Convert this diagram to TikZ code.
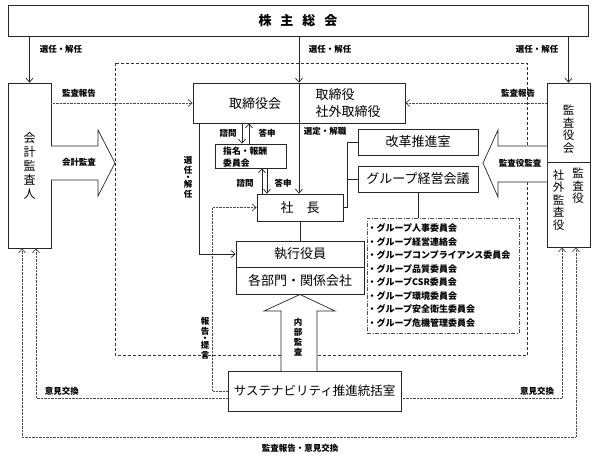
\documentclass[tikz,border=0pt]{standalone}
\usepackage{fontspec}
\setmainfont{Noto Sans CJK JP}
\usetikzlibrary{arrows.meta}
\begin{document}
\begin{tikzpicture}[x=1pt,y=-1pt,
  box/.style={draw=black!85, line width=0.7pt, fill=white, inner sep=0pt, font=\fontsize{13}{15}\selectfont},
  txt/.style={inner sep=0pt, font=\fontsize{13}{15}\selectfont},
  vt/.style={inner sep=0pt, align=center, font=\fontsize{11.5}{12.5}\selectfont},
  lbl/.style={inner sep=0pt, font=\bfseries\fontsize{8.5}{10}\selectfont},
  vlbl/.style={inner sep=0pt, align=center, font=\bfseries\fontsize{8.5}{10}\selectfont},
  arr/.style={line width=0.7pt, black!85, -{Straight Barb[length=4pt,width=7pt]}},
  dot/.style={line width=0.7pt, black!70, dash pattern=on 0.7pt off 0.7pt},
  dotarr/.style={dot, -{Straight Barb[length=4pt,width=7pt]}},
  bigarr/.style={draw=black!85, line width=0.7pt, fill=white, line join=miter},
  dashbox/.style={line width=0.6pt, black!80, dash pattern=on 3pt off 2pt},
  listbox/.style={draw=black!70, line width=0.6pt, dash pattern=on 4pt off 1.5pt on 1pt off 1.5pt, inner sep=0pt}
]
\useasboundingbox (0,0) rectangle (598,458);
\fill[white] (0,0) rectangle (598,458);

% dashed frame
\draw[dashbox] (115,63) rectangle (527,355.5);

% top box
\node[box, minimum width=580pt, minimum height=31pt, font=\bfseries\fontsize{13}{15}\selectfont] (kabu) at (298,20.5) {株\hspace{9pt}主\hspace{9pt}総\hspace{9pt}会};

% side boxes
\node[box, minimum width=43pt, minimum height=165pt, align=center, font=\fontsize{12}{14}\selectfont] (kaikei) at (29.5,165.5) {会\\計\\監\\査\\人};
\node[box, minimum width=43pt, minimum height=164pt] (kansa) at (568.5,165) {};
\draw[black!85, line width=0.7pt] ([yshift=3pt]kansa.west) -- ([yshift=3pt]kansa.east);
\node[vt] (kansakai) at (568.5,129) {監\\査\\役\\会};
\node[vt] (kansayaku) at (578,186) {監\\査\\役};
\node[vt] (shagaikansa) at (558.5,200) {社\\外\\監\\査\\役};

% big hollow arrows
\draw[bigarr] (51,146) -- (98,146) -- (98,130) -- (115,163) -- (98,196) -- (98,180) -- (51,180);
\draw[bigarr] (547,146) -- (498,146) -- (498,130) -- (483,163) -- (498,197) -- (498,182) -- (547,182);

% board
\node[box, minimum width=212pt, minimum height=40pt] (tori) at (299,103) {};
\node[txt] (torikai) at (255,104) {取締役会};
\node[txt, align=left, font=\fontsize{13}{17}\selectfont] (toriyaku) at (348,103.5) {取締役\\社外取締役};

% committee
\node[box, minimum width=71pt, minimum height=24pt] (shimei) at (250.5,156) {};
\node[inner sep=0pt, anchor=west, align=left, font=\bfseries\fontsize{8.8}{11.5}\selectfont] (shimeit) at (223,157) {指名・報酬\\委員会};

% president
\node[box, minimum width=86pt, minimum height=27pt] (shacho) at (300,207.5) {社\hspace{13pt}長};

\node[box, minimum width=120pt, minimum height=26pt] (kaikaku) at (418,142) {改革推進室};
\node[box, minimum width=120pt, minimum height=26pt] (group) at (418,179) {グループ経営会議};

% executive
\node[box, minimum width=128pt, minimum height=53pt] (shikko) at (300,267.5) {};
\draw[black!85, line width=0.7pt] (shikko.west) -- (shikko.east);
\node[txt] (shikkot) at (300,254) {執行役員};
\node[txt] (bumon) at (300,281) {各部門・関係会社};

% committee list
\node[listbox, minimum width=152pt, minimum height=115pt] (list) at (443,275.5) {};
\node[inner sep=0pt, anchor=west, align=left, font=\bfseries\fontsize{9}{13.57}\selectfont] (listt) at (367.5,275.5)
 {・グループ人事委員会\\・グループ経営連絡会\\・グループコンプライアンス委員会\\・グループ品質委員会\\・グループCSR委員会\\・グループ環境委員会\\・グループ安全衛生委員会\\・グループ危機管理委員会};

% sustainability office
\node[box, minimum width=173pt, minimum height=40pt, font=\fontsize{12.5}{15}\selectfont] (sustena) at (314.5,391) {サステナビリティ推進統括室};

% internal audit arrow
\draw[bigarr] (281,371) -- (281,311) -- (264,311) -- (300,294.5) -- (335,311) -- (317,311) -- (317,371);

% solid connectors
\draw[arr] (kabu.south -| kaikei.north) -- (kaikei.north);
\draw[arr] (kabu.south -| tori.north) -- (tori.north);
\draw[arr] (kabu.south -| kansa.north) -- (kansa.north);
\draw[black!85, line width=0.7pt] (tori.north) -- (tori.south);
\draw[arr] (tori.south) -- (tori.south |- shacho.north);
\draw[arr] ([xshift=-8.5pt]shimei.north |- tori.south) -- ([xshift=-8.5pt]shimei.north);
\draw[arr] ([xshift=-1.5pt]shimei.north) -- ([xshift=-1.5pt]shimei.north |- tori.south);
\draw[arr] ([xshift=11.5pt]shimei.south |- shacho.north) -- ([xshift=11.5pt]shimei.south);
\draw[arr] ([xshift=16.5pt]shimei.south) -- ([xshift=16.5pt]shimei.south |- shacho.north);
\draw[arr] ([xshift=7pt]tori.south west) |- ([yshift=13.5pt]shikko.west);
\draw[black!85, line width=0.7pt] (shacho.south) -- (shikko.north);
\draw[black!85, line width=0.7pt] (shacho.east) -| ([xshift=-10pt]kaikaku.west) -- (kaikaku.west);
\draw[black!85, line width=0.7pt] ([xshift=-10pt]group.west) -- (group.west);
\draw[black!85, line width=0.7pt] (group.south) -- (group.south |- list.north);

% dotted connectors
\draw[dotarr] (kaikei.east |- tori.west) -- (tori.west);
\draw[dotarr] (kansa.west |- tori.east) -- (tori.east);
\draw[dotarr] (sustena.west) -- ++(-15,0) |- (shacho.west);
\draw[dotarr] ([yshift=-7pt]sustena.west) -| ([xshift=6.5pt]kaikei.south);
\draw[dotarr] ([yshift=-7pt]sustena.east) -| ([xshift=-6.5pt]kansa.south);
\coordinate (obot) at (300,437);
\draw[dot, {Straight Barb[length=4pt,width=7pt]}-{Straight Barb[length=4pt,width=7pt]}] ([xshift=-7.5pt]kaikei.south) |- (obot) -| ([xshift=7.5pt]kansa.south);

% labels
\node[lbl] (l1) at (61,49) {選任・解任};
\node[lbl] (l2) at (330,49) {選任・解任};
\node[lbl] (l3) at (537,49) {選任・解任};
\node[lbl] (l4) at (79,93) {監査報告};
\node[lbl] (l5) at (518,93) {監査報告};
\node[lbl] (l6) at (79,162) {会計監査};
\node[lbl] (l7) at (520,163) {監査役監査};
\node[lbl] (l8) at (228,133) {諮問};
\node[lbl] (l9) at (267,133) {答申};
\node[lbl] (l10) at (245,183) {諮問};
\node[lbl] (l11) at (283,183) {答申};
\node[lbl] (l12) at (325,131) {選定・解職};
\node[vlbl] (l13) at (188,177) {選\\任\\[-3pt]・\\[-3pt]解\\任};
\node[vlbl] (l14) at (205,338) {報\\告\\[-3pt]・\\[-3pt]提\\言};
\node[vlbl] (l15) at (298,337) {内\\部\\監\\査};
\node[lbl] (l16) at (62,391) {意見交換};
\node[lbl] (l17) at (537,391) {意見交換};
\node[lbl] (l18) at (300,448) {監査報告・意見交換};
\end{tikzpicture}
\end{document}
